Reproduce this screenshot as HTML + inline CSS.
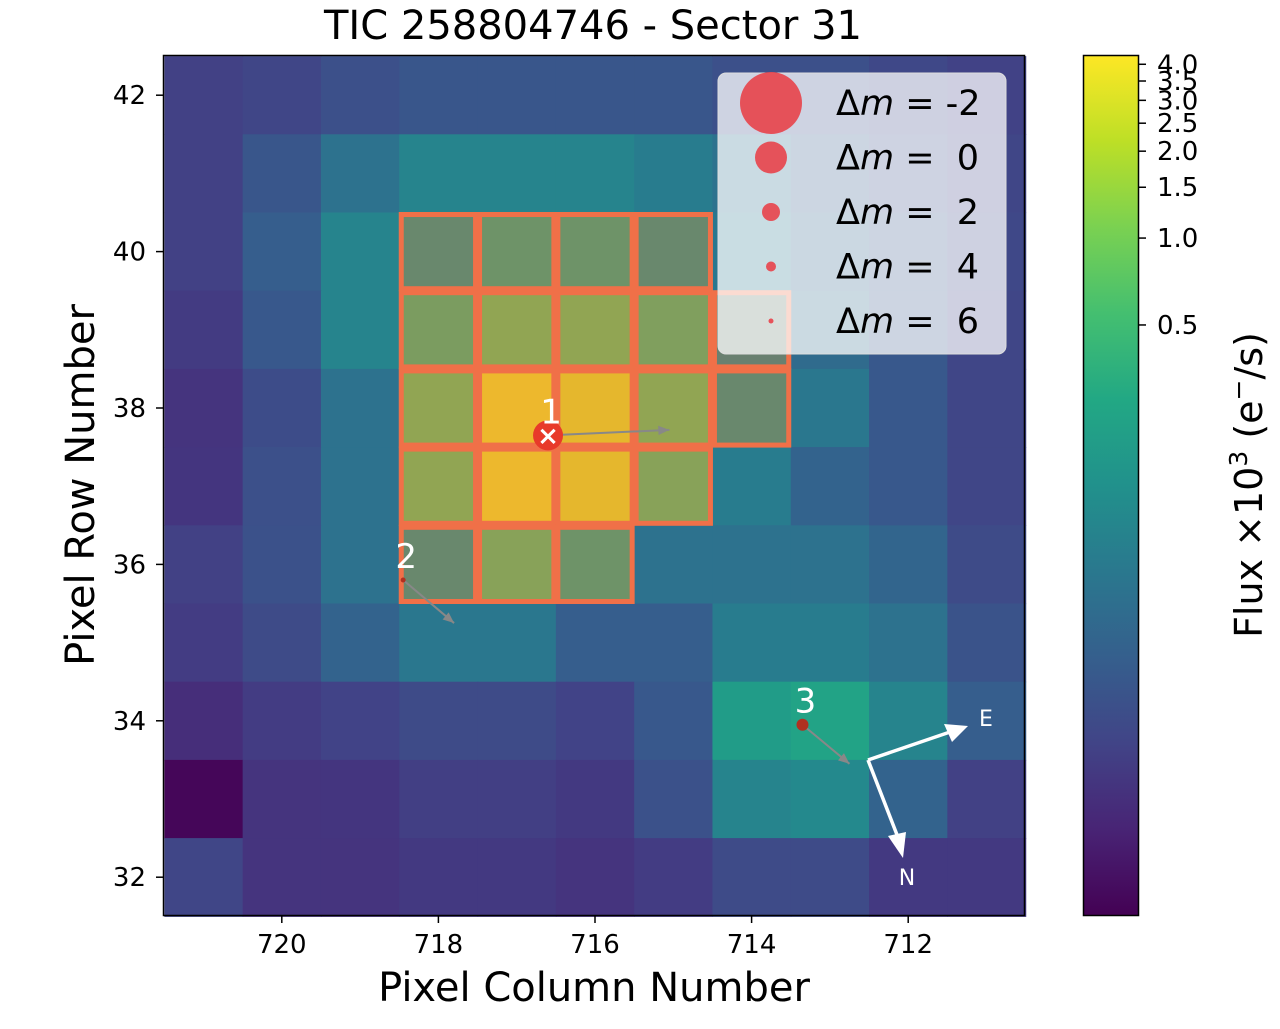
<!DOCTYPE html>
<html><head><meta charset="utf-8"><style>
body{margin:0;background:#fff;}
svg text{font-family:"DejaVu Sans","Liberation Sans",sans-serif;}
</style></head><body>
<svg id="chart" width="1280" height="1024" viewBox="0 0 1280 1024" xmlns="http://www.w3.org/2000/svg">
<defs><linearGradient id="vir" x1="0" y1="1" x2="0" y2="0">
<stop offset="0" stop-color="#440154"/><stop offset="0.1" stop-color="#482475"/><stop offset="0.2" stop-color="#414487"/><stop offset="0.3" stop-color="#355f8d"/><stop offset="0.4" stop-color="#2a788e"/><stop offset="0.5" stop-color="#21918c"/><stop offset="0.6" stop-color="#22a884"/><stop offset="0.7" stop-color="#44bf70"/><stop offset="0.8" stop-color="#7ad151"/><stop offset="0.9" stop-color="#bddf26"/><stop offset="1" stop-color="#fde725"/>
</linearGradient></defs>
<g id="cells"></g>
<g id="aper"></g>
<rect x="163.5" y="55.5" width="861" height="860" fill="none" stroke="#000" stroke-width="1.5"/>
<g id="ticks"></g>
<text x="593" y="39" font-size="40" text-anchor="middle">TIC 258804746 - Sector 31</text>
<text x="594" y="1001" font-size="40" text-anchor="middle">Pixel Column Number</text>
<text transform="translate(94,485) rotate(-90)" font-size="40" text-anchor="middle">Pixel Row Number</text>
<g id="stars"></g>
<g stroke="#fff" stroke-width="3.5" fill="#fff">
<line x1="868" y1="760" x2="950" y2="732"/><polygon points="968,726 944,724 952,742" stroke="none"/>
<line x1="868" y1="760" x2="899" y2="840"/><polygon points="903,858 888,836 906,832" stroke="none"/>
<text x="986" y="726" font-size="22" stroke="none" text-anchor="middle">E</text>
<text x="907" y="885" font-size="22" stroke="none" text-anchor="middle">N</text>
</g>
<g>
<rect x="718" y="73" width="288" height="281" rx="8" fill="#fff" fill-opacity="0.75" stroke="#ddd"/>
<g id="leg"></g>
</g>
<rect x="1083.5" y="55.5" width="55" height="860" fill="url(#vir)" stroke="#000" stroke-width="1.5"/>
<g id="cbt"></g>
<text transform="translate(1262,485) rotate(-90)" font-size="38" text-anchor="middle">Flux ×10<tspan font-size="25" dy="-15">3</tspan><tspan dy="15"> (e</tspan><tspan font-size="25" dy="-15">−</tspan><tspan dy="15">/s)</tspan></text>
</svg>
<script>
const columns=[721,720,719,718,717,716,715,714,713,712,711];
const rows=[42,41,40,39,38,37,36,35,34,33,32];
const flux=[
[0.0165,0.0185,0.0242,0.0278,0.0278,0.0278,0.0278,0.0242,0.0242,0.0197,0.0171],
[0.0165,0.0278,0.0596,0.0966,0.0966,0.0966,0.0786,0.0596,0.0342,0.0242,0.0185],
[0.0165,0.0342,0.0966,0.194,0.314,0.314,0.194,0.0684,0.0393,0.0298,0.0197],
[0.0145,0.0298,0.0966,0.476,0.774,0.774,0.547,0.137,0.0484,0.0298,0.0185],
[0.0125,0.0220,0.0596,0.774,3.56,3.10,0.774,0.194,0.0684,0.0298,0.0185],
[0.0130,0.0240,0.0596,0.774,3.56,3.10,0.637,0.0786,0.0393,0.0298,0.0185],
[0.0165,0.0250,0.0596,0.194,0.637,0.314,0.0596,0.0596,0.0596,0.0421,0.0210],
[0.0150,0.0210,0.0393,0.0684,0.0684,0.0342,0.0342,0.0786,0.0786,0.0596,0.0260],
[0.0110,0.0150,0.0175,0.0210,0.0210,0.0175,0.0298,0.194,0.238,0.0966,0.0342],
[0.0050,0.0125,0.0130,0.0160,0.0160,0.0140,0.0250,0.0966,0.111,0.0393,0.0165],
[0.0185,0.0125,0.0125,0.0140,0.0140,0.0125,0.0150,0.0210,0.0210,0.0140,0.0140]];
const aperture=[[40,718],[40,717],[40,716],[40,715],[39,718],[39,717],[39,716],[39,715],[39,714],[38,718],[38,717],[38,716],[38,715],[38,714],[37,718],[37,717],[37,716],[37,715],[36,718],[36,717],[36,716]];
const xTicks=[720,718,716,714,712];
const yTicks=[42,40,38,36,34,32];
const cbTicks=[0.5,1.0,1.5,2.0,2.5,3.0,3.5,4.0];
const cbLabels=["0.5","1.0","1.5","2.0","2.5","3.0","3.5","4.0"];
const legendMag=[-2,0,2,4,6];
const legendRadius=[31,16,9,5,2.5];
const starCol=[716.6,718.45,713.35];
const starRow=[37.65,35.8,33.95];
const starLabels=["1","2","3"];
const starSize=[15,2.5,6];
const pmDx=[-1.55,-0.65,-0.6];
const pmDy=[0.07,-0.55,-0.5];

const NS='http://www.w3.org/2000/svg';
const X=c=>595-(c-716)*78.3;
const Y=r=>408-(r-38)*78.2;
const CW=78.3,CH=78.2;
const VMIN=0.0045,VMAX=4.29;
const frac=v=>Math.max(0,Math.min(1,(Math.log2(v)-Math.log2(VMIN))/(Math.log2(VMAX)-Math.log2(VMIN))));
const CBY=v=>915.5-frac(v)*860;
const vir=[[68,1,84],[72,36,117],[65,68,135],[53,95,141],[42,120,142],[33,145,140],[34,168,132],[68,191,112],[122,209,81],[189,223,38],[253,231,37]];
function col(t){const s=t*10,i=Math.min(9,Math.floor(s)),f=s-i;const a=vir[i],b=vir[i+1];return a.map((v,k)=>Math.round(v+(b[k]-v)*f));}
function mk(tag,attrs,parent){const e=document.createElementNS(NS,tag);for(const k in attrs)e.setAttribute(k,attrs[k]);parent.appendChild(e);return e;}
const cells=document.getElementById('cells');
rows.forEach((r,i)=>columns.forEach((c,j)=>{
 const rgb=col(frac(flux[i][j]));
 const e=mk('rect',{x:X(c)-CW/2,y:Y(r)-CH/2,width:CW+0.6,height:CH+0.6,fill:`rgb(${rgb})`},cells);
 
 
}));
const ap=document.getElementById('aper');
aperture.forEach(([r,c])=>{
 const e=mk('rect',{x:X(c)-CW/2+2,y:Y(r)-CH/2+2,width:CW-4,height:CH-4,fill:'rgb(240,100,60)','fill-opacity':0.35,stroke:'#f07048','stroke-width':5},ap);
 
 
});
const tk=document.getElementById('ticks');
xTicks.forEach(c=>{mk('line',{x1:X(c),x2:X(c),y1:916,y2:923,stroke:'#000','stroke-width':1.5},tk);
 const t=mk('text',{x:X(c),y:953,'font-size':26,'text-anchor':'middle'},tk);t.textContent=c;
 });
yTicks.forEach(r=>{mk('line',{x1:156,x2:163,y1:Y(r),y2:Y(r),stroke:'#000','stroke-width':1.5},tk);
 const t=mk('text',{x:146,y:Y(r)+9,'font-size':26,'text-anchor':'end'},tk);t.textContent=r;
 });
const cbt=document.getElementById('cbt');
cbTicks.forEach((v,i)=>{const y=CBY(v);mk('line',{x1:1138,x2:1146,y1:y,y2:y,stroke:'#000','stroke-width':1.5},cbt);
 const t=mk('text',{x:1157,y:y+9,'font-size':26},cbt);t.textContent=cbLabels[i];
 });
const st=document.getElementById('stars');
starCol.forEach((c,i)=>{const x=X(c),y=Y(starRow[i]);
 const ax=X(c+pmDx[i]),ay=Y(starRow[i]+pmDy[i]);
 const ln=mk('line',{x1:x,y1:y,x2:ax,y2:ay,stroke:'#888','stroke-width':2},st);
 
 const ang=Math.atan2(ay-y,ax-x);
 mk('polygon',{points:`${ax},${ay} ${ax-12*Math.cos(ang-0.4)},${ay-12*Math.sin(ang-0.4)} ${ax-12*Math.cos(ang+0.4)},${ay-12*Math.sin(ang+0.4)}`,fill:'#888'},st);
 const d=mk('circle',{cx:x,cy:y,r:starSize[i],fill:i===0?'#e83a2a':'#b03020'},st);
 
 if(i===0){mk('text',{x:x,y:y+9,'font-size':26,fill:'#fff','text-anchor':'middle','font-weight':'bold'},st).textContent='×';}
 const t=mk('text',{x:x+3,y:y-12,'font-size':34,fill:'#fff','text-anchor':'middle'},st);t.textContent=starLabels[i];
 
});
const lg=document.getElementById('leg');
legendMag.forEach((m,i)=>{const y=103+i*54.5;
 const c=mk('circle',{cx:771,cy:y,r:legendRadius[i],fill:'#e8424a','fill-opacity':0.9},lg);
 
 const t=mk('text',{x:836,y:y+12,'font-size':35},lg);
 t.innerHTML='Δ<tspan font-style="italic">m</tspan> =  '+(m<0?'-':'\u00a0')+Math.abs(m);
 t.setAttribute('xml:space','preserve');
 
});
</script>
</body></html>
